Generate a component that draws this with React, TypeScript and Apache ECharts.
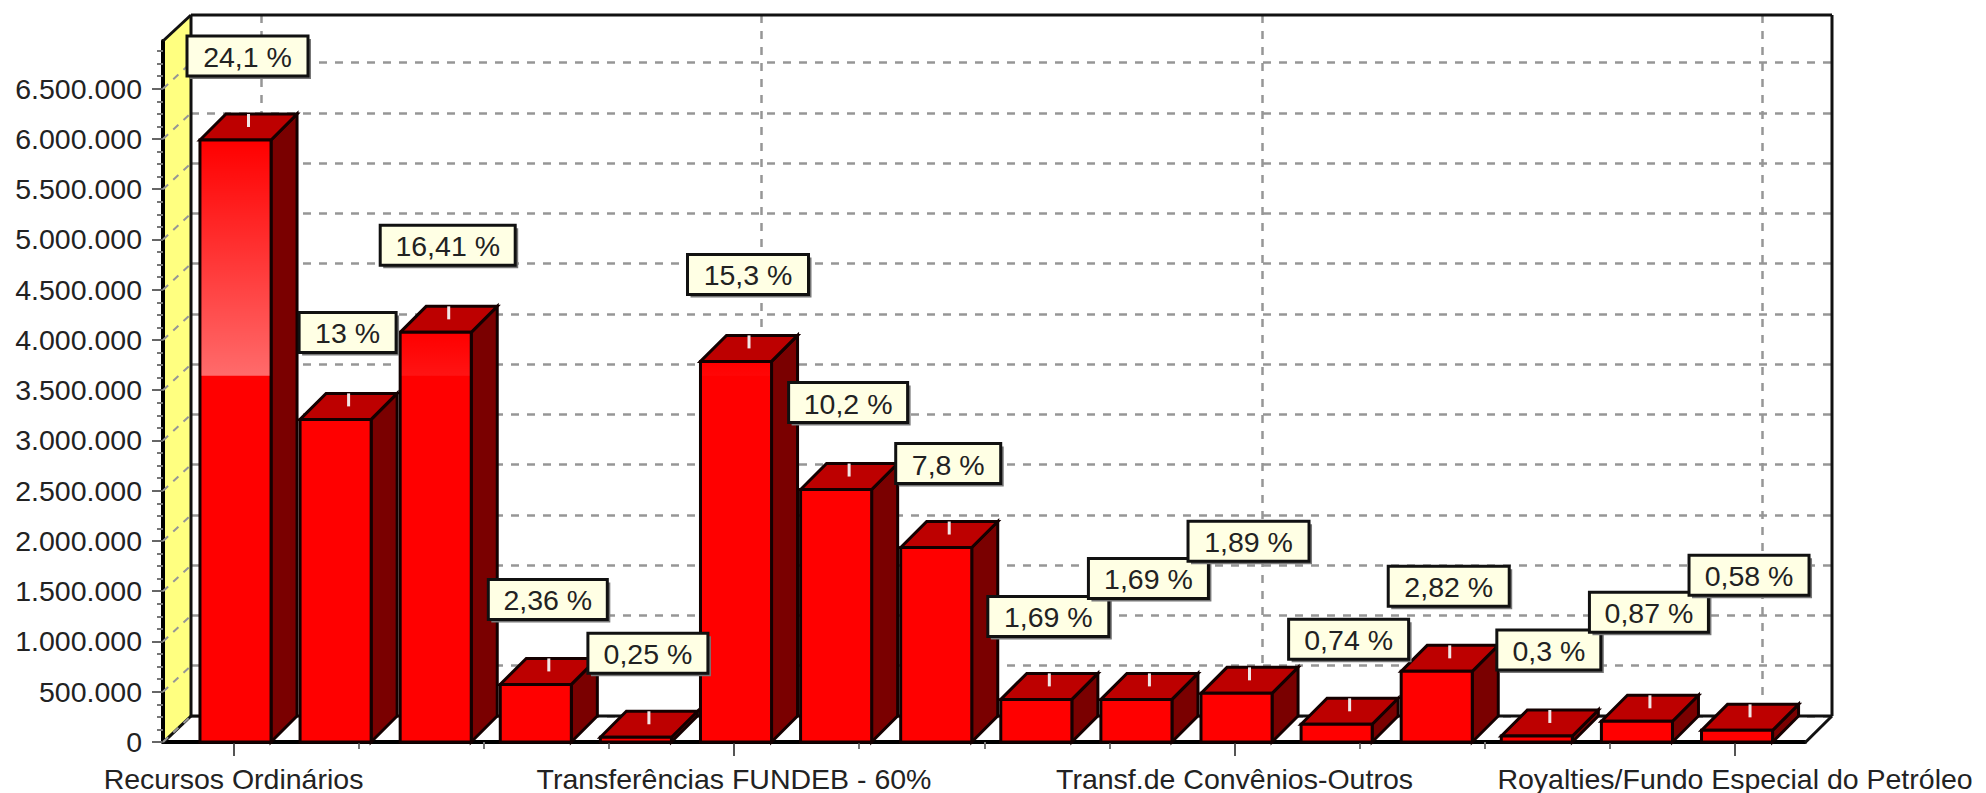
import React, { useEffect, useRef } from "react";
import * as echarts from "echarts";

const barPositions = [1, 2, 3, 4, 5, 6, 7, 8, 9, 10, 11, 12, 13, 14, 15, 16];
const barValues = [5990000, 3210000, 4076000, 573000, 47000, 3787000, 2512000, 1935000, 424000, 424000, 484000, 176000, 703000, 60000, 206000, 116000];
const percentLabels = ["24,1 %", "13 %", "16,41 %", "2,36 %", "0,25 %", "15,3 %", "10,2 %", "7,8 %", "1,69 %", "1,69 %", "1,89 %", "0,74 %", "2,82 %", "0,3 %", "0,87 %", "0,58 %"];
const axisLabelPositions = [1, 6, 11, 16];
const axisLabelNames = ["Recursos Ordinários", "Transferências FUNDEB - 60%", "Transf.de Convênios-Outros", "Royalties/Fundo Especial do Petróleo"];
const minorXTicks = [2.25, 3.5, 4.75, 7.25, 8.5, 9.75, 12.25, 13.5, 14.75];
const yTickValues = [0, 500000, 1000000, 1500000, 2000000, 2500000, 3000000, 3500000, 4000000, 4500000, 5000000, 5500000, 6000000, 6500000];

// label-box layout, in pixels
const labelRise = [84, 87, 87, 85, 84, 87, 87, 84, 83, 121, 152, 85, 85, 86, 109, 155];
const labelBoxWidth = [121, 97, 135, 119, 120, 121, 119, 105, 121, 120, 121, 120, 121, 104, 119, 120];

const X_MIN = 0.2957;
const X_MAX = 16.699;
const Y_MAX = 6975000;
const Y_INTERVAL = 500000;
const SHEEN_FLOOR = 3645000;
const DEPTH = 26;
const FONT = "'Liberation Sans', Arial, sans-serif";
const FONT_SIZE = 28.5;
const TEXT = "#222222";
const GRID_COLOR = "#969696";

const FRONT = { left: 163, top: 41, width: 1642, height: 701.7 };
const BACK = { left: 191, top: 15, width: 1641, height: 701 };

const fmt = (v: number) => String(v).replace(/\B(?=(\d{3})+$)/g, ".");

function renderBar(_p: any, api: any) {
  const x = api.value(0);
  const v = api.value(1);
  const [cx, top] = api.coord([x, v]);
  const base = api.coord([x, 0])[1];
  const sheenY = api.coord([x, SHEEN_FLOOR])[1];
  const w = api.size([1, 0])[0] * 0.71;
  const left = cx + 2 - w / 2;
  const right = left + w;
  const edge = { stroke: "#140000", lineWidth: 3 };
  const children: any[] = [
    {
      type: "polygon",
      shape: { points: [[right, top], [right + DEPTH, top - DEPTH], [right + DEPTH, base - DEPTH], [right, base]] },
      style: { fill: "#7a0000", ...edge },
    },
    {
      type: "polygon",
      shape: { points: [[left, top], [left + DEPTH, top - DEPTH], [right + DEPTH, top - DEPTH], [right, top]] },
      style: { fill: "#bd0000", ...edge },
    },
    {
      type: "rect",
      shape: { x: left, y: top, width: w, height: base - top },
      style: { fill: "#ff0000", ...edge },
    },
  ];
  if (v > SHEEN_FLOOR) {
    const alpha = (0.42 * (sheenY - top)) / 236;
    children.push({
      type: "rect",
      shape: { x: left + 1.5, y: top + 1.5, width: w - 3, height: sheenY - top - 1.5 },
      style: {
        fill: {
          type: "linear", x: 0, y: 0, x2: 0, y2: 1,
          colorStops: [
            { offset: 0, color: "rgba(255,255,255,0)" },
            { offset: 1, color: `rgba(255,255,255,${alpha})` },
          ],
        },
      },
    });
  }
  const lx = left + w / 2 + DEPTH / 2;
  children.push({
    type: "line",
    shape: { x1: lx, y1: top - DEPTH / 2, x2: lx, y2: top - DEPTH },
    style: { stroke: "#f2e6e6", lineWidth: 3 },
  });
  return { type: "group", children };
}

function renderLabel(p: any, api: any) {
  const i = p.dataIndex;
  const [cx, top] = api.coord([api.value(0), api.value(1)]);
  const bw = labelBoxWidth[i];
  const bh = 40;
  const bx = cx + 2 + 12 - bw / 2;
  const by = top - labelRise[i] - bh / 2;
  return {
    type: "group",
    children: [
      { type: "rect", shape: { x: bx + 3, y: by + 3, width: bw, height: bh }, style: { fill: "#777777" } },
      { type: "rect", shape: { x: bx, y: by, width: bw, height: bh }, style: { fill: "#ffffe4", stroke: "#111111", lineWidth: 3 } },
      {
        type: "text",
        x: bx + bw / 2,
        y: by + bh / 2 + 1,
        style: { text: percentLabels[i], fill: TEXT, font: `${FONT_SIZE}px ${FONT}`, align: "center", verticalAlign: "middle" },
      },
    ],
  };
}

function renderWallDash(_p: any, api: any) {
  const [x, y] = api.coord([X_MIN, api.value(1)]);
  return {
    type: "line",
    shape: { x1: x, y1: y, x2: x + 28, y2: y - DEPTH },
    style: { stroke: GRID_COLOR, lineWidth: 2, lineDash: [7, 7] },
  };
}

const F = { l: FRONT.left, r: FRONT.left + FRONT.width, t: FRONT.top, b: FRONT.top + FRONT.height };
const B = { l: BACK.left, r: BACK.left + BACK.width, t: BACK.top, b: BACK.top + BACK.height };
const frameLine = { stroke: "#111111", lineWidth: 3 };

const wallGraphics = [
  {
    type: "polygon", z: 0,
    shape: { points: [[F.l, F.t], [B.l, B.t], [B.l, B.b], [F.l, F.b]] },
    style: { fill: "#ffff80" },
  },
  { type: "line", z: 1, shape: { x1: F.l, y1: F.t, x2: B.l, y2: B.t }, style: frameLine },
  { type: "line", z: 1, shape: { x1: B.l, y1: B.t, x2: B.r, y2: B.t }, style: frameLine },
  { type: "line", z: 1, shape: { x1: B.r, y1: B.t, x2: B.r, y2: B.b }, style: frameLine },
  { type: "line", z: 1, shape: { x1: B.l, y1: B.t, x2: B.l, y2: B.b }, style: frameLine },
  { type: "line", z: 1, shape: { x1: B.l, y1: B.b, x2: B.r, y2: B.b }, style: frameLine },
  { type: "line", z: 1, shape: { x1: F.l, y1: F.b, x2: B.l, y2: B.b }, style: frameLine },
  { type: "line", z: 1, shape: { x1: F.r, y1: F.b, x2: B.r, y2: B.b }, style: frameLine },
];

export default function App() {
  const ref = useRef<HTMLDivElement>(null);
  useEffect(() => {
    const chart = echarts.init(ref.current!, undefined, { renderer: "svg" });
    const hiddenAxis = { axisLine: { show: false }, axisLabel: { show: false } };
    chart.setOption({
      animation: false,
      backgroundColor: "#ffffff",
      graphic: { elements: wallGraphics },
      grid: [
        { ...FRONT, containLabel: false },
        { ...BACK, containLabel: false },
      ],
      xAxis: [
        {
          type: "value", gridIndex: 0, position: "bottom", min: X_MIN, max: X_MAX, splitLine: { show: false },
          axisLine: { show: true, onZero: false, lineStyle: { color: "#000000", width: 4 } },
          axisTick: { show: true, length: 14, customValues: axisLabelPositions, lineStyle: { color: "#555555", width: 2 } },
          axisLabel: {
            show: true, customValues: axisLabelPositions, margin: 22, color: TEXT, fontSize: FONT_SIZE, fontFamily: FONT,
            hideOverlap: false,
            formatter: (v: number) => axisLabelNames[axisLabelPositions.indexOf(Math.round(v))] ?? "",
          },
        },
        {
          type: "value", gridIndex: 0, position: "bottom", min: X_MIN, max: X_MAX, splitLine: { show: false }, ...hiddenAxis,
          axisTick: { show: true, length: 7, customValues: minorXTicks, lineStyle: { color: "#777777", width: 2 } },
        },
        {
          type: "value", gridIndex: 1, position: "bottom", min: X_MIN, max: X_MAX, ...hiddenAxis,
          axisTick: { show: false, customValues: axisLabelPositions },
          splitLine: { show: true, lineStyle: { color: GRID_COLOR, width: 2.5, type: [8, 8] } },
        },
      ],
      yAxis: [
        {
          type: "value", gridIndex: 0, position: "left", min: 0, max: Y_MAX, interval: Y_INTERVAL, splitLine: { show: false },
          axisLine: { show: true, onZero: false, lineStyle: { color: "#000000", width: 4 } },
          axisTick: { show: true, length: 11, customValues: yTickValues, lineStyle: { color: "#666666", width: 2 } },
          minorTick: { show: true, splitNumber: 4, length: 6, lineStyle: { color: "#777777", width: 2 } },
          axisLabel: {
            show: true, customValues: yTickValues, margin: 21, color: TEXT, fontSize: FONT_SIZE, fontFamily: FONT, formatter: fmt,
          },
        },
        {
          type: "value", gridIndex: 1, position: "left", min: 0, max: Y_MAX, interval: Y_INTERVAL, ...hiddenAxis,
          axisTick: { show: false, customValues: yTickValues },
          splitLine: { show: true, lineStyle: { color: GRID_COLOR, width: 2.5, type: [8, 8] } },
        },
      ],
      series: [
        {
          type: "custom", name: "wall", xAxisIndex: 0, yAxisIndex: 0, z: 1, silent: true,
          data: yTickValues.map((v) => [X_MIN, v]), renderItem: renderWallDash,
        },
        {
          type: "custom", name: "bars", xAxisIndex: 0, yAxisIndex: 0, z: 3, silent: true,
          data: barValues.map((v, i) => [barPositions[i], v]), renderItem: renderBar,
        },
        {
          type: "custom", name: "labels", xAxisIndex: 0, yAxisIndex: 0, z: 4, silent: true,
          data: barValues.map((v, i) => [barPositions[i], v]), renderItem: renderLabel,
        },
      ],
    });
    return () => chart.dispose();
  }, []);
  return <div ref={ref} style={{ position: "fixed", left: 0, top: 0, width: 1986, height: 793 }} />;
}
